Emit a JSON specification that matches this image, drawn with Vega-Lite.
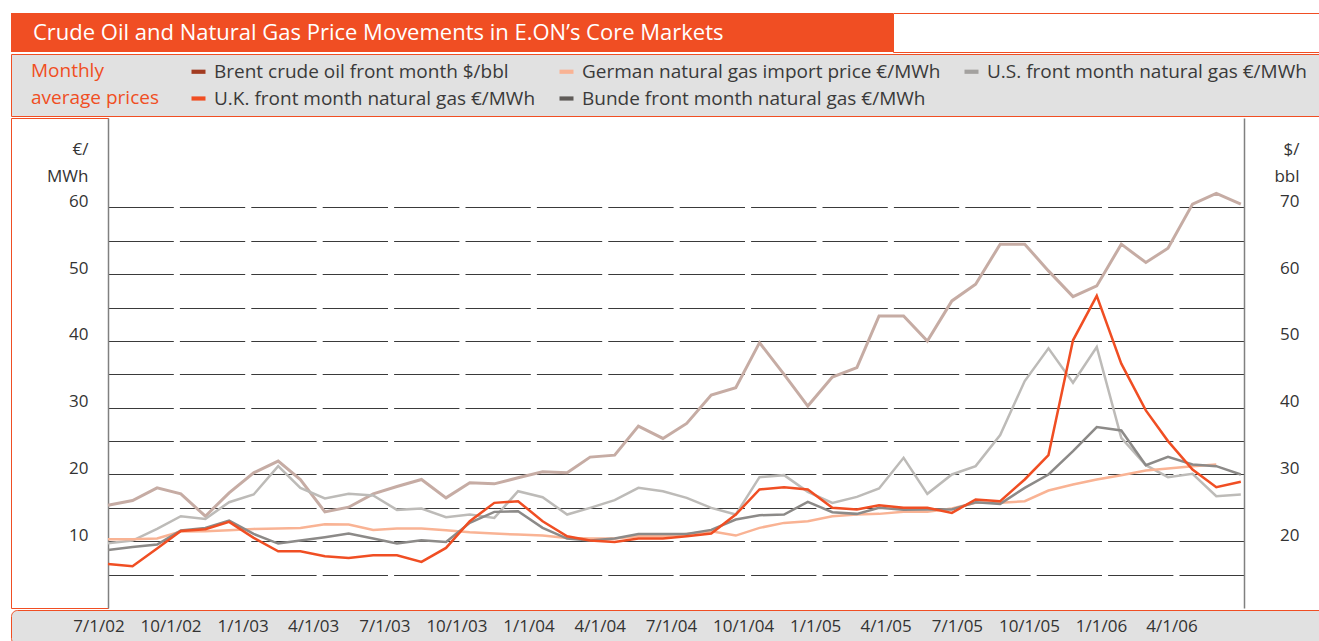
{
  "$schema": "https://vega.github.io/schema/vega-lite/v6.json",
  "background": "white",
  "padding": {"left": 10, "top": 12, "right": 0, "bottom": 0},
  "spacing": 0,
  "bounds": "full",
  "config": {"view": {"stroke": null}, "font": "Open Sans", "concat": {"spacing": 0}},
  "datasets": {
    "quarters": [
      {"date": "2002-07-01"}, {"date": "2002-10-01"}, {"date": "2003-01-01"}, {"date": "2003-04-01"},
      {"date": "2003-07-01"}, {"date": "2003-10-01"}, {"date": "2004-01-01"}, {"date": "2004-04-01"},
      {"date": "2004-07-01"}, {"date": "2004-10-01"}, {"date": "2005-01-01"}, {"date": "2005-04-01"},
      {"date": "2005-07-01"}, {"date": "2005-10-01"}, {"date": "2006-01-01"}, {"date": "2006-04-01"}
    ],
    "prices": [
      {"date": "2002-07-01", "series": "Brent crude oil front month $/bbl", "value": 25.4},
      {"date": "2002-08-01", "series": "Brent crude oil front month $/bbl", "value": 26.1},
      {"date": "2002-09-01", "series": "Brent crude oil front month $/bbl", "value": 28.0},
      {"date": "2002-10-01", "series": "Brent crude oil front month $/bbl", "value": 27.1},
      {"date": "2002-11-01", "series": "Brent crude oil front month $/bbl", "value": 23.75},
      {"date": "2002-12-01", "series": "Brent crude oil front month $/bbl", "value": 27.25},
      {"date": "2003-01-01", "series": "Brent crude oil front month $/bbl", "value": 30.25},
      {"date": "2003-02-01", "series": "Brent crude oil front month $/bbl", "value": 32.0},
      {"date": "2003-03-01", "series": "Brent crude oil front month $/bbl", "value": 29.25},
      {"date": "2003-04-01", "series": "Brent crude oil front month $/bbl", "value": 24.4},
      {"date": "2003-05-01", "series": "Brent crude oil front month $/bbl", "value": 25.1},
      {"date": "2003-06-01", "series": "Brent crude oil front month $/bbl", "value": 27.1},
      {"date": "2003-07-01", "series": "Brent crude oil front month $/bbl", "value": 28.2},
      {"date": "2003-08-01", "series": "Brent crude oil front month $/bbl", "value": 29.25},
      {"date": "2003-09-01", "series": "Brent crude oil front month $/bbl", "value": 26.5},
      {"date": "2003-10-01", "series": "Brent crude oil front month $/bbl", "value": 28.75},
      {"date": "2003-11-01", "series": "Brent crude oil front month $/bbl", "value": 28.6},
      {"date": "2003-12-01", "series": "Brent crude oil front month $/bbl", "value": 29.5},
      {"date": "2004-01-01", "series": "Brent crude oil front month $/bbl", "value": 30.4},
      {"date": "2004-02-01", "series": "Brent crude oil front month $/bbl", "value": 30.25},
      {"date": "2004-03-01", "series": "Brent crude oil front month $/bbl", "value": 32.6},
      {"date": "2004-04-01", "series": "Brent crude oil front month $/bbl", "value": 32.9},
      {"date": "2004-05-01", "series": "Brent crude oil front month $/bbl", "value": 37.25},
      {"date": "2004-06-01", "series": "Brent crude oil front month $/bbl", "value": 35.4},
      {"date": "2004-07-01", "series": "Brent crude oil front month $/bbl", "value": 37.65},
      {"date": "2004-08-01", "series": "Brent crude oil front month $/bbl", "value": 41.9},
      {"date": "2004-09-01", "series": "Brent crude oil front month $/bbl", "value": 43.0},
      {"date": "2004-10-01", "series": "Brent crude oil front month $/bbl", "value": 49.75},
      {"date": "2004-11-01", "series": "Brent crude oil front month $/bbl", "value": 45.0},
      {"date": "2004-12-01", "series": "Brent crude oil front month $/bbl", "value": 40.25},
      {"date": "2005-01-01", "series": "Brent crude oil front month $/bbl", "value": 44.6},
      {"date": "2005-02-01", "series": "Brent crude oil front month $/bbl", "value": 46.0},
      {"date": "2005-03-01", "series": "Brent crude oil front month $/bbl", "value": 53.75},
      {"date": "2005-04-01", "series": "Brent crude oil front month $/bbl", "value": 53.75},
      {"date": "2005-05-01", "series": "Brent crude oil front month $/bbl", "value": 50.0},
      {"date": "2005-06-01", "series": "Brent crude oil front month $/bbl", "value": 56.0},
      {"date": "2005-07-01", "series": "Brent crude oil front month $/bbl", "value": 58.5},
      {"date": "2005-08-01", "series": "Brent crude oil front month $/bbl", "value": 64.5},
      {"date": "2005-09-01", "series": "Brent crude oil front month $/bbl", "value": 64.5},
      {"date": "2005-10-01", "series": "Brent crude oil front month $/bbl", "value": 60.5},
      {"date": "2005-11-01", "series": "Brent crude oil front month $/bbl", "value": 56.65},
      {"date": "2005-12-01", "series": "Brent crude oil front month $/bbl", "value": 58.25},
      {"date": "2006-01-01", "series": "Brent crude oil front month $/bbl", "value": 64.5},
      {"date": "2006-02-01", "series": "Brent crude oil front month $/bbl", "value": 61.75},
      {"date": "2006-03-01", "series": "Brent crude oil front month $/bbl", "value": 63.9},
      {"date": "2006-04-01", "series": "Brent crude oil front month $/bbl", "value": 70.5},
      {"date": "2006-05-01", "series": "Brent crude oil front month $/bbl", "value": 72.1},
      {"date": "2006-06-01", "series": "Brent crude oil front month $/bbl", "value": 70.5},

      {"date": "2002-07-01", "series": "U.S. front month natural gas €/MWh", "value": 9.7},
      {"date": "2002-08-01", "series": "U.S. front month natural gas €/MWh", "value": 10.1},
      {"date": "2002-09-01", "series": "U.S. front month natural gas €/MWh", "value": 11.85},
      {"date": "2002-10-01", "series": "U.S. front month natural gas €/MWh", "value": 13.75},
      {"date": "2002-11-01", "series": "U.S. front month natural gas €/MWh", "value": 13.35},
      {"date": "2002-12-01", "series": "U.S. front month natural gas €/MWh", "value": 15.85},
      {"date": "2003-01-01", "series": "U.S. front month natural gas €/MWh", "value": 17.0},
      {"date": "2003-02-01", "series": "U.S. front month natural gas €/MWh", "value": 21.25},
      {"date": "2003-03-01", "series": "U.S. front month natural gas €/MWh", "value": 18.0},
      {"date": "2003-04-01", "series": "U.S. front month natural gas €/MWh", "value": 16.4},
      {"date": "2003-05-01", "series": "U.S. front month natural gas €/MWh", "value": 17.1},
      {"date": "2003-06-01", "series": "U.S. front month natural gas €/MWh", "value": 16.85},
      {"date": "2003-07-01", "series": "U.S. front month natural gas €/MWh", "value": 14.7},
      {"date": "2003-08-01", "series": "U.S. front month natural gas €/MWh", "value": 14.9},
      {"date": "2003-09-01", "series": "U.S. front month natural gas €/MWh", "value": 13.6},
      {"date": "2003-10-01", "series": "U.S. front month natural gas €/MWh", "value": 14.0},
      {"date": "2003-11-01", "series": "U.S. front month natural gas €/MWh", "value": 13.5},
      {"date": "2003-12-01", "series": "U.S. front month natural gas €/MWh", "value": 17.5},
      {"date": "2004-01-01", "series": "U.S. front month natural gas €/MWh", "value": 16.6},
      {"date": "2004-02-01", "series": "U.S. front month natural gas €/MWh", "value": 14.0},
      {"date": "2004-03-01", "series": "U.S. front month natural gas €/MWh", "value": 15.0},
      {"date": "2004-04-01", "series": "U.S. front month natural gas €/MWh", "value": 16.15},
      {"date": "2004-05-01", "series": "U.S. front month natural gas €/MWh", "value": 18.0},
      {"date": "2004-06-01", "series": "U.S. front month natural gas €/MWh", "value": 17.5},
      {"date": "2004-07-01", "series": "U.S. front month natural gas €/MWh", "value": 16.5},
      {"date": "2004-08-01", "series": "U.S. front month natural gas €/MWh", "value": 15.0},
      {"date": "2004-09-01", "series": "U.S. front month natural gas €/MWh", "value": 14.0},
      {"date": "2004-10-01", "series": "U.S. front month natural gas €/MWh", "value": 19.6},
      {"date": "2004-11-01", "series": "U.S. front month natural gas €/MWh", "value": 19.9},
      {"date": "2004-12-01", "series": "U.S. front month natural gas €/MWh", "value": 17.4},
      {"date": "2005-01-01", "series": "U.S. front month natural gas €/MWh", "value": 15.75},
      {"date": "2005-02-01", "series": "U.S. front month natural gas €/MWh", "value": 16.65},
      {"date": "2005-03-01", "series": "U.S. front month natural gas €/MWh", "value": 17.9},
      {"date": "2005-04-01", "series": "U.S. front month natural gas €/MWh", "value": 22.5},
      {"date": "2005-05-01", "series": "U.S. front month natural gas €/MWh", "value": 17.1},
      {"date": "2005-06-01", "series": "U.S. front month natural gas €/MWh", "value": 20.0},
      {"date": "2005-07-01", "series": "U.S. front month natural gas €/MWh", "value": 21.25},
      {"date": "2005-08-01", "series": "U.S. front month natural gas €/MWh", "value": 25.9},
      {"date": "2005-09-01", "series": "U.S. front month natural gas €/MWh", "value": 34.0},
      {"date": "2005-10-01", "series": "U.S. front month natural gas €/MWh", "value": 38.9},
      {"date": "2005-11-01", "series": "U.S. front month natural gas €/MWh", "value": 33.75},
      {"date": "2005-12-01", "series": "U.S. front month natural gas €/MWh", "value": 39.1},
      {"date": "2006-01-01", "series": "U.S. front month natural gas €/MWh", "value": 25.5},
      {"date": "2006-02-01", "series": "U.S. front month natural gas €/MWh", "value": 21.4},
      {"date": "2006-03-01", "series": "U.S. front month natural gas €/MWh", "value": 19.6},
      {"date": "2006-04-01", "series": "U.S. front month natural gas €/MWh", "value": 20.1},
      {"date": "2006-05-01", "series": "U.S. front month natural gas €/MWh", "value": 16.75},
      {"date": "2006-06-01", "series": "U.S. front month natural gas €/MWh", "value": 17.0},

      {"date": "2002-07-01", "series": "German natural gas import price €/MWh", "value": 10.3},
      {"date": "2002-08-01", "series": "German natural gas import price €/MWh", "value": 10.3},
      {"date": "2002-09-01", "series": "German natural gas import price €/MWh", "value": 10.4},
      {"date": "2002-10-01", "series": "German natural gas import price €/MWh", "value": 11.45},
      {"date": "2002-11-01", "series": "German natural gas import price €/MWh", "value": 11.5},
      {"date": "2002-12-01", "series": "German natural gas import price €/MWh", "value": 11.65},
      {"date": "2003-01-01", "series": "German natural gas import price €/MWh", "value": 11.85},
      {"date": "2003-02-01", "series": "German natural gas import price €/MWh", "value": 11.9},
      {"date": "2003-03-01", "series": "German natural gas import price €/MWh", "value": 12.0},
      {"date": "2003-04-01", "series": "German natural gas import price €/MWh", "value": 12.55},
      {"date": "2003-05-01", "series": "German natural gas import price €/MWh", "value": 12.5},
      {"date": "2003-06-01", "series": "German natural gas import price €/MWh", "value": 11.7},
      {"date": "2003-07-01", "series": "German natural gas import price €/MWh", "value": 11.9},
      {"date": "2003-08-01", "series": "German natural gas import price €/MWh", "value": 11.9},
      {"date": "2003-09-01", "series": "German natural gas import price €/MWh", "value": 11.65},
      {"date": "2003-10-01", "series": "German natural gas import price €/MWh", "value": 11.35},
      {"date": "2003-11-01", "series": "German natural gas import price €/MWh", "value": 11.15},
      {"date": "2003-12-01", "series": "German natural gas import price €/MWh", "value": 11.0},
      {"date": "2004-01-01", "series": "German natural gas import price €/MWh", "value": 10.85},
      {"date": "2004-02-01", "series": "German natural gas import price €/MWh", "value": 10.5},
      {"date": "2004-03-01", "series": "German natural gas import price €/MWh", "value": 10.4},
      {"date": "2004-04-01", "series": "German natural gas import price €/MWh", "value": 10.4},
      {"date": "2004-05-01", "series": "German natural gas import price €/MWh", "value": 10.75},
      {"date": "2004-06-01", "series": "German natural gas import price €/MWh", "value": 10.75},
      {"date": "2004-07-01", "series": "German natural gas import price €/MWh", "value": 11.1},
      {"date": "2004-08-01", "series": "German natural gas import price €/MWh", "value": 11.5},
      {"date": "2004-09-01", "series": "German natural gas import price €/MWh", "value": 10.85},
      {"date": "2004-10-01", "series": "German natural gas import price €/MWh", "value": 12.0},
      {"date": "2004-11-01", "series": "German natural gas import price €/MWh", "value": 12.75},
      {"date": "2004-12-01", "series": "German natural gas import price €/MWh", "value": 13.0},
      {"date": "2005-01-01", "series": "German natural gas import price €/MWh", "value": 13.75},
      {"date": "2005-02-01", "series": "German natural gas import price €/MWh", "value": 14.0},
      {"date": "2005-03-01", "series": "German natural gas import price €/MWh", "value": 14.1},
      {"date": "2005-04-01", "series": "German natural gas import price €/MWh", "value": 14.4},
      {"date": "2005-05-01", "series": "German natural gas import price €/MWh", "value": 14.4},
      {"date": "2005-06-01", "series": "German natural gas import price €/MWh", "value": 14.9},
      {"date": "2005-07-01", "series": "German natural gas import price €/MWh", "value": 15.75},
      {"date": "2005-08-01", "series": "German natural gas import price €/MWh", "value": 15.75},
      {"date": "2005-09-01", "series": "German natural gas import price €/MWh", "value": 16.0},
      {"date": "2005-10-01", "series": "German natural gas import price €/MWh", "value": 17.6},
      {"date": "2005-11-01", "series": "German natural gas import price €/MWh", "value": 18.5},
      {"date": "2005-12-01", "series": "German natural gas import price €/MWh", "value": 19.25},
      {"date": "2006-01-01", "series": "German natural gas import price €/MWh", "value": 19.9},
      {"date": "2006-02-01", "series": "German natural gas import price €/MWh", "value": 20.6},
      {"date": "2006-03-01", "series": "German natural gas import price €/MWh", "value": 20.9},
      {"date": "2006-04-01", "series": "German natural gas import price €/MWh", "value": 21.25},
      {"date": "2006-05-01", "series": "German natural gas import price €/MWh", "value": 21.5},

      {"date": "2002-07-01", "series": "Bunde front month natural gas €/MWh", "value": 8.7},
      {"date": "2002-08-01", "series": "Bunde front month natural gas €/MWh", "value": 9.15},
      {"date": "2002-09-01", "series": "Bunde front month natural gas €/MWh", "value": 9.5},
      {"date": "2002-10-01", "series": "Bunde front month natural gas €/MWh", "value": 11.6},
      {"date": "2002-11-01", "series": "Bunde front month natural gas €/MWh", "value": 12.0},
      {"date": "2002-12-01", "series": "Bunde front month natural gas €/MWh", "value": 13.1},
      {"date": "2003-01-01", "series": "Bunde front month natural gas €/MWh", "value": 11.1},
      {"date": "2003-02-01", "series": "Bunde front month natural gas €/MWh", "value": 9.65},
      {"date": "2003-03-01", "series": "Bunde front month natural gas €/MWh", "value": 10.1},
      {"date": "2003-04-01", "series": "Bunde front month natural gas €/MWh", "value": 10.6},
      {"date": "2003-05-01", "series": "Bunde front month natural gas €/MWh", "value": 11.15},
      {"date": "2003-06-01", "series": "Bunde front month natural gas €/MWh", "value": 10.4},
      {"date": "2003-07-01", "series": "Bunde front month natural gas €/MWh", "value": 9.65},
      {"date": "2003-08-01", "series": "Bunde front month natural gas €/MWh", "value": 10.15},
      {"date": "2003-09-01", "series": "Bunde front month natural gas €/MWh", "value": 9.9},
      {"date": "2003-10-01", "series": "Bunde front month natural gas €/MWh", "value": 12.75},
      {"date": "2003-11-01", "series": "Bunde front month natural gas €/MWh", "value": 14.4},
      {"date": "2003-12-01", "series": "Bunde front month natural gas €/MWh", "value": 14.5},
      {"date": "2004-01-01", "series": "Bunde front month natural gas €/MWh", "value": 12.0},
      {"date": "2004-02-01", "series": "Bunde front month natural gas €/MWh", "value": 10.4},
      {"date": "2004-03-01", "series": "Bunde front month natural gas €/MWh", "value": 10.1},
      {"date": "2004-04-01", "series": "Bunde front month natural gas €/MWh", "value": 10.4},
      {"date": "2004-05-01", "series": "Bunde front month natural gas €/MWh", "value": 11.1},
      {"date": "2004-06-01", "series": "Bunde front month natural gas €/MWh", "value": 11.1},
      {"date": "2004-07-01", "series": "Bunde front month natural gas €/MWh", "value": 11.1},
      {"date": "2004-08-01", "series": "Bunde front month natural gas €/MWh", "value": 11.7},
      {"date": "2004-09-01", "series": "Bunde front month natural gas €/MWh", "value": 13.25},
      {"date": "2004-10-01", "series": "Bunde front month natural gas €/MWh", "value": 13.9},
      {"date": "2004-11-01", "series": "Bunde front month natural gas €/MWh", "value": 14.0},
      {"date": "2004-12-01", "series": "Bunde front month natural gas €/MWh", "value": 15.9},
      {"date": "2005-01-01", "series": "Bunde front month natural gas €/MWh", "value": 14.35},
      {"date": "2005-02-01", "series": "Bunde front month natural gas €/MWh", "value": 14.1},
      {"date": "2005-03-01", "series": "Bunde front month natural gas €/MWh", "value": 15.0},
      {"date": "2005-04-01", "series": "Bunde front month natural gas €/MWh", "value": 14.7},
      {"date": "2005-05-01", "series": "Bunde front month natural gas €/MWh", "value": 14.75},
      {"date": "2005-06-01", "series": "Bunde front month natural gas €/MWh", "value": 14.75},
      {"date": "2005-07-01", "series": "Bunde front month natural gas €/MWh", "value": 15.85},
      {"date": "2005-08-01", "series": "Bunde front month natural gas €/MWh", "value": 15.6},
      {"date": "2005-09-01", "series": "Bunde front month natural gas €/MWh", "value": 18.0},
      {"date": "2005-10-01", "series": "Bunde front month natural gas €/MWh", "value": 20.0},
      {"date": "2005-11-01", "series": "Bunde front month natural gas €/MWh", "value": 23.5},
      {"date": "2005-12-01", "series": "Bunde front month natural gas €/MWh", "value": 27.1},
      {"date": "2006-01-01", "series": "Bunde front month natural gas €/MWh", "value": 26.6},
      {"date": "2006-02-01", "series": "Bunde front month natural gas €/MWh", "value": 21.4},
      {"date": "2006-03-01", "series": "Bunde front month natural gas €/MWh", "value": 22.65},
      {"date": "2006-04-01", "series": "Bunde front month natural gas €/MWh", "value": 21.5},
      {"date": "2006-05-01", "series": "Bunde front month natural gas €/MWh", "value": 21.25},
      {"date": "2006-06-01", "series": "Bunde front month natural gas €/MWh", "value": 20.0},

      {"date": "2002-07-01", "series": "U.K. front month natural gas €/MWh", "value": 6.6},
      {"date": "2002-08-01", "series": "U.K. front month natural gas €/MWh", "value": 6.25},
      {"date": "2002-09-01", "series": "U.K. front month natural gas €/MWh", "value": 8.9},
      {"date": "2002-10-01", "series": "U.K. front month natural gas €/MWh", "value": 11.55},
      {"date": "2002-11-01", "series": "U.K. front month natural gas €/MWh", "value": 11.8},
      {"date": "2002-12-01", "series": "U.K. front month natural gas €/MWh", "value": 12.9},
      {"date": "2003-01-01", "series": "U.K. front month natural gas €/MWh", "value": 10.5},
      {"date": "2003-02-01", "series": "U.K. front month natural gas €/MWh", "value": 8.5},
      {"date": "2003-03-01", "series": "U.K. front month natural gas €/MWh", "value": 8.5},
      {"date": "2003-04-01", "series": "U.K. front month natural gas €/MWh", "value": 7.75},
      {"date": "2003-05-01", "series": "U.K. front month natural gas €/MWh", "value": 7.5},
      {"date": "2003-06-01", "series": "U.K. front month natural gas €/MWh", "value": 7.9},
      {"date": "2003-07-01", "series": "U.K. front month natural gas €/MWh", "value": 7.9},
      {"date": "2003-08-01", "series": "U.K. front month natural gas €/MWh", "value": 6.9},
      {"date": "2003-09-01", "series": "U.K. front month natural gas €/MWh", "value": 9.0},
      {"date": "2003-10-01", "series": "U.K. front month natural gas €/MWh", "value": 13.0},
      {"date": "2003-11-01", "series": "U.K. front month natural gas €/MWh", "value": 15.75},
      {"date": "2003-12-01", "series": "U.K. front month natural gas €/MWh", "value": 16.0},
      {"date": "2004-01-01", "series": "U.K. front month natural gas €/MWh", "value": 13.0},
      {"date": "2004-02-01", "series": "U.K. front month natural gas €/MWh", "value": 10.75},
      {"date": "2004-03-01", "series": "U.K. front month natural gas €/MWh", "value": 10.1},
      {"date": "2004-04-01", "series": "U.K. front month natural gas €/MWh", "value": 9.9},
      {"date": "2004-05-01", "series": "U.K. front month natural gas €/MWh", "value": 10.4},
      {"date": "2004-06-01", "series": "U.K. front month natural gas €/MWh", "value": 10.4},
      {"date": "2004-07-01", "series": "U.K. front month natural gas €/MWh", "value": 10.75},
      {"date": "2004-08-01", "series": "U.K. front month natural gas €/MWh", "value": 11.15},
      {"date": "2004-09-01", "series": "U.K. front month natural gas €/MWh", "value": 14.0},
      {"date": "2004-10-01", "series": "U.K. front month natural gas €/MWh", "value": 17.75},
      {"date": "2004-11-01", "series": "U.K. front month natural gas €/MWh", "value": 18.1},
      {"date": "2004-12-01", "series": "U.K. front month natural gas €/MWh", "value": 17.75},
      {"date": "2005-01-01", "series": "U.K. front month natural gas €/MWh", "value": 15.0},
      {"date": "2005-02-01", "series": "U.K. front month natural gas €/MWh", "value": 14.75},
      {"date": "2005-03-01", "series": "U.K. front month natural gas €/MWh", "value": 15.4},
      {"date": "2005-04-01", "series": "U.K. front month natural gas €/MWh", "value": 15.0},
      {"date": "2005-05-01", "series": "U.K. front month natural gas €/MWh", "value": 15.0},
      {"date": "2005-06-01", "series": "U.K. front month natural gas €/MWh", "value": 14.25},
      {"date": "2005-07-01", "series": "U.K. front month natural gas €/MWh", "value": 16.25},
      {"date": "2005-08-01", "series": "U.K. front month natural gas €/MWh", "value": 16.0},
      {"date": "2005-09-01", "series": "U.K. front month natural gas €/MWh", "value": 19.25},
      {"date": "2005-10-01", "series": "U.K. front month natural gas €/MWh", "value": 22.9},
      {"date": "2005-11-01", "series": "U.K. front month natural gas €/MWh", "value": 40.1},
      {"date": "2005-12-01", "series": "U.K. front month natural gas €/MWh", "value": 46.75},
      {"date": "2006-01-01", "series": "U.K. front month natural gas €/MWh", "value": 36.6},
      {"date": "2006-02-01", "series": "U.K. front month natural gas €/MWh", "value": 29.6},
      {"date": "2006-03-01", "series": "U.K. front month natural gas €/MWh", "value": 25.0},
      {"date": "2006-04-01", "series": "U.K. front month natural gas €/MWh", "value": 20.75},
      {"date": "2006-05-01", "series": "U.K. front month natural gas €/MWh", "value": 18.1},
      {"date": "2006-06-01", "series": "U.K. front month natural gas €/MWh", "value": 18.9}
    ]
  },
  "vconcat": [
    {
      "hconcat": [
        {
          "width": 882, "height": 39,
          "view": {"fill": "#f04e23", "stroke": null},
          "data": {"values": [{"heading": "Crude Oil and Natural Gas Price Movements in E.ON’s Core Markets"}]},
          "mark": {"type": "text", "align": "left", "baseline": "middle", "dx": -419, "fontSize": 22, "font": "Open Sans", "color": "#ffffff"},
          "encoding": {"text": {"field": "heading", "type": "nominal"}}
        },
        {
          "width": 448, "height": 39,
          "view": {"fill": "#ffffff", "stroke": "#f04e23", "strokeWidth": 1},
          "data": {"values": [{}]},
          "mark": {"type": "text"},
          "encoding": {"text": {"value": ""}}
        }
      ],
      "spacing": 0,
      "bounds": "flush"
    },
    {
      "width": 1330, "height": 62,
      "view": {"fill": "#e1e1e1", "stroke": "#f04e23", "strokeWidth": 1},
      "data": {"name": "prices"},
      "mark": {"type": "point", "filled": true, "opacity": 0},
      "encoding": {
        "fill": {"field": "series", "type": "nominal",
          "scale": {"domain": ["Brent crude oil front month $/bbl", "U.K. front month natural gas €/MWh", "German natural gas import price €/MWh", "Bunde front month natural gas €/MWh", "U.S. front month natural gas €/MWh"], "range": ["#a23b21", "#f04e23", "#f9b394", "#5f5b58", "#a3a19f"]},
          "legend": {"title": ["Monthly", "average prices"], "orient": "none", "legendX": 20, "legendY": 49, "padding": 0, "columns": 3, "columnPadding": 21, "rowPadding": 7, "titleOrient": "left", "titleAnchor": "start", "titleBaseline": "top", "titleAlign": "left", "titlePadding": 30, "titleFont": "Open Sans", "titleFontSize": 19, "titleFontWeight": "normal", "titleColor": "#f04e23", "titleLineHeight": 27, "titleLimit": 300, "labelFont": "Open Sans", "labelFontSize": 19, "labelColor": "#3a3a3a", "labelOffset": 6, "labelLimit": 600, "symbolType": "M-1,-0.3H1V0.3H-1Z", "symbolSize": 196, "symbolStrokeWidth": 0, "symbolOpacity": 1}}
      }
    },
    {
      "hconcat": [
        {
          "width": 97, "height": 490,
          "view": {"stroke": "#f04e23", "strokeWidth": 1},
          "data": {"values": [{}]},
          "mark": {"type": "text"},
          "encoding": {"text": {"value": ""}}
        },
        {
          "width": 1136, "height": 490,
          "data": {"name": "prices"},
          "layer": [
            {
              "transform": [{"filter": {"field": "series", "equal": "Brent crude oil front month $/bbl"}}],
              "mark": {"type": "line", "strokeWidth": 3},
              "encoding": {
                "x": {"field": "date", "type": "temporal", "scale": {"type": "utc", "domain": [{"year": 2002, "month": 7, "date": 1, "utc": true}, {"year": 2006, "month": 6, "date": 5, "utc": true}]}, "axis": null},
                "y": {"field": "value", "type": "quantitative", "scale": {"domain": [10, 83.4], "nice": false, "zero": false},
                  "axis": {"orient": "right", "values": [20, 30, 40, 50, 60, 70], "grid": false, "ticks": false, "tickSize": 0, "domain": true, "domainColor": "#808080", "domainWidth": 1.5, "labelAlign": "right", "labelPadding": 55, "labelOffset": -6, "labelFont": "Open Sans", "labelFontSize": 17, "labelColor": "#333333", "title": ["$/", "bbl"], "titleAngle": 0, "titleAlign": "right", "titleBaseline": "middle", "titleX": 55, "titleY": 31, "titleFont": "Open Sans", "titleFontSize": 17, "titleFontWeight": "normal", "titleColor": "#333333", "titleLineHeight": 27}},
                "stroke": {"field": "series", "type": "nominal", "scale": {"domain": ["Brent crude oil front month $/bbl", "German natural gas import price €/MWh", "U.S. front month natural gas €/MWh", "U.K. front month natural gas €/MWh", "Bunde front month natural gas €/MWh"], "range": ["#c6aca4", "#f9b394", "#bdbbb8", "#f04e23", "#8c8a88"]}, "legend": null}
              }
            },
            {
              "transform": [{"filter": {"not": {"field": "series", "equal": "Brent crude oil front month $/bbl"}}}],
              "mark": {"type": "line", "strokeWidth": 2.5},
              "encoding": {
                "x": {"field": "date", "type": "temporal", "scale": {"type": "utc", "domain": [{"year": 2002, "month": 7, "date": 1, "utc": true}, {"year": 2006, "month": 6, "date": 5, "utc": true}]}, "axis": null},
                "y": {"field": "value", "type": "quantitative", "scale": {"domain": [0, 73.4], "nice": false, "zero": false},
                  "axis": {"orient": "left", "values": [5, 10, 15, 20, 25, 30, 35, 40, 45, 50, 55, 60], "labelExpr": "datum.value % 10 === 0 ? datum.label : ''", "grid": true, "gridColor": "#3a3a3a", "gridWidth": 1, "gridDash": [65.3, 6.1], "ticks": false, "tickSize": 0, "domain": true, "domainColor": "#808080", "domainWidth": 1.5, "labelPadding": 20, "labelOffset": -6, "labelFont": "Open Sans", "labelFontSize": 17, "labelColor": "#333333", "title": ["€/", "MWh"], "titleAngle": 0, "titleAlign": "right", "titleBaseline": "middle", "titleX": -20, "titleY": 31, "titleFont": "Open Sans", "titleFontSize": 17, "titleFontWeight": "normal", "titleColor": "#333333", "titleLineHeight": 27}},
                "stroke": {"field": "series", "type": "nominal", "scale": {"domain": ["Brent crude oil front month $/bbl", "German natural gas import price €/MWh", "U.S. front month natural gas €/MWh", "U.K. front month natural gas €/MWh", "Bunde front month natural gas €/MWh"], "range": ["#c6aca4", "#f9b394", "#bdbbb8", "#f04e23", "#8c8a88"]}, "legend": null}
              }
            }
          ],
          "resolve": {"scale": {"y": "independent"}}
        }
      ],
      "spacing": 0,
      "bounds": "flush"
    },
    {
      "width": 1330, "height": 34,
      "view": {"fill": "#e1e1e1", "stroke": "#f04e23", "strokeWidth": 1, "cornerRadius": 6},
      "data": {"name": "quarters"},
      "mark": {"type": "text", "fontSize": 17, "font": "Open Sans", "color": "#333333", "baseline": "middle"},
      "encoding": {
        "x": {"field": "date", "type": "temporal", "scale": {"type": "utc", "domain": [{"year": 2002, "month": 3, "date": 10, "hours": 15, "minutes": 21, "utc": true}, {"year": 2006, "month": 11, "date": 2, "hours": 18, "minutes": 43, "utc": true}]}, "axis": null},
        "text": {"field": "date", "type": "temporal", "timeUnit": "utcyearmonthdate", "format": "%-m/%-d/%y"}
      }
    }
  ]
}
